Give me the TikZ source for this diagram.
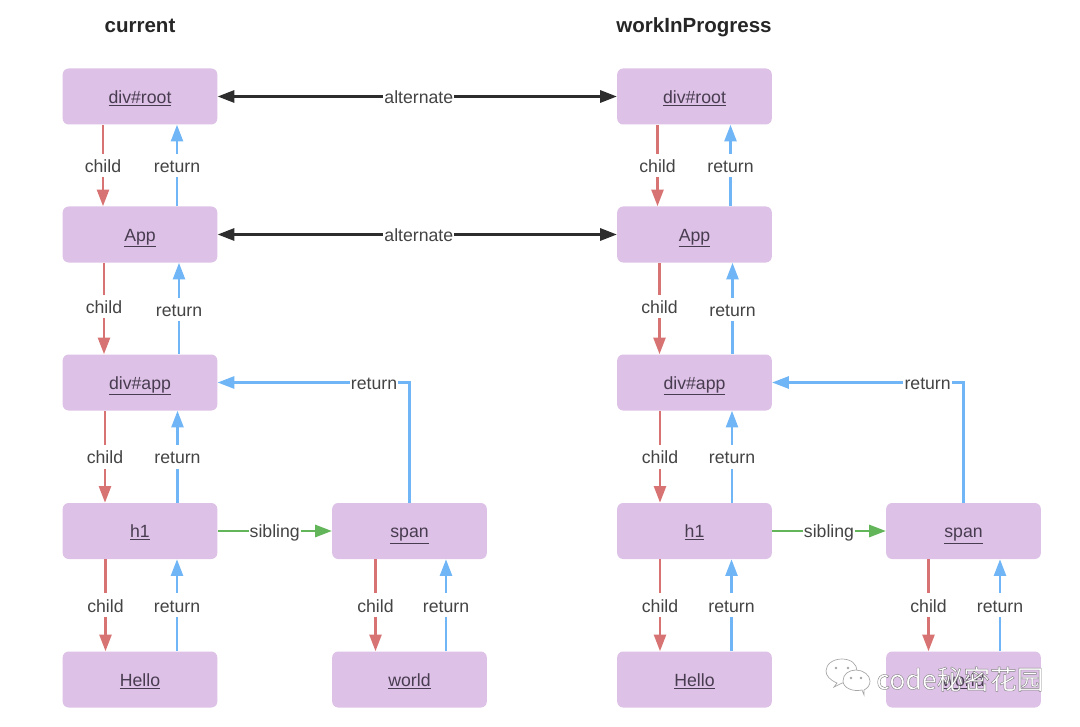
\documentclass[tikz,border=0pt]{standalone}
\usepackage{fontspec}
\setmainfont{Liberation Sans}
\newfontfamily\cjkmark{Noto Sans CJK SC}
\usetikzlibrary{arrows.meta}
\definecolor{boxfill}{RGB}{221,193,230}
\definecolor{boxtext}{RGB}{72,60,80}
\definecolor{labtext}{RGB}{68,68,68}
\definecolor{childred}{RGB}{216,115,115}
\definecolor{returnblue}{RGB}{112,181,245}
\definecolor{siblinggreen}{RGB}{99,181,90}
\definecolor{altblack}{RGB}{45,45,45}
\tikzset{
  fiber/.style={draw=none,fill=boxfill,rounded corners=4.5pt,minimum width=116pt,minimum height=42pt,inner sep=0pt,text=boxtext,text height=10pt,text depth=0pt,font=\fontsize{13.25}{15}\selectfont},
  lab/.style={fill=white,inner xsep=.8pt,inner ysep=1pt,text height=13pt,text depth=2.75pt,text=labtext,font=\fontsize{13.25}{15}\selectfont},
  tip/.style={-{Triangle[length=12.5pt,width=9pt]}},
  childlink/.style={tip,draw=childred,line width=1.9pt},
  returnlink/.style={tip,draw=returnblue,line width=1.9pt},
  siblinglink/.style={tip,draw=siblinggreen,line width=1.9pt},
  altlink/.style={{Triangle[length=12.5pt,width=9pt]}-{Triangle[length=12.5pt,width=9pt]},draw=altblack,line width=2.1pt},
  headline/.style={text=black!85,text height=13pt,text depth=3pt,font=\bfseries\fontsize{15.4}{18}\selectfont},
}
\newcommand\treelink[6][.5]{\draw[#2] ([xshift=#5*.75pt]#3) -- node[lab,pos=#1]{#6} ([xshift=#5*.75pt]#4);}
\begin{document}
\begin{tikzpicture}[x=.75pt,y=-.75pt]
\useasboundingbox (0,0) rectangle (1080,727);
\node[headline] (t1) at (140,26) {current};
\node[headline] (t2) at (694,26) {workInProgress};

\foreach \n/\cx/\cy/\txt in {
  rootA/140/96.5/div\#root, appA/140/234.5/App, divA/140/382.5/div\#app, hA/140/531/h1, helloA/140/679.5/Hello,
  spanA/409.5/531/span, worldA/409.5/679.5/world,
  rootB/694.5/96.5/div\#root, appB/694.5/234.5/App, divB/694.5/382.5/div\#app, hB/694.5/531/h1, helloB/694.5/679.5/Hello,
  spanB/963.5/531/span, worldB/963.5/679.5/world}
  \node[fiber] (\n) at (\cx,\cy) {\underline{\txt}};

% alternate
\draw[altlink] (rootA.east) -- node[lab,pos=.504]{alternate} (rootB.west);
\draw[altlink] (appA.east) -- node[lab,pos=.504]{alternate} (appB.west);

% left tree
\treelink{childlink}{rootA.south}{appA.north}{-37}{child}
\treelink{returnlink}{appA.north}{rootA.south}{37}{return}
\treelink[.478]{childlink}{appA.south}{divA.north}{-36}{child}
\treelink[.49]{returnlink}{divA.north}{appA.south}{39}{return}
\treelink{childlink}{divA.south}{hA.north}{-35}{child}
\treelink{returnlink}{hA.north}{divA.south}{37.5}{return}
\treelink{childlink}{hA.south}{helloA.north}{-34.5}{child}
\treelink{returnlink}{helloA.north}{hA.south}{37}{return}
\treelink{childlink}{spanA.south}{worldA.north}{-34}{child}
\treelink{returnlink}{worldA.north}{spanA.south}{36.5}{return}
\draw[siblinglink] (hA.east) -- node[lab]{sibling} (spanA.west);
\coordinate (cornerA) at (spanA.north |- divA.east);
\draw[returnlink] (spanA.north) -- (cornerA) -- node[lab,pos=.185]{return} (divA.east);

% right tree
\treelink{childlink}{rootB.south}{appB.north}{-37}{child}
\treelink{returnlink}{appB.north}{rootB.south}{36}{return}
\treelink[.478]{childlink}{appB.south}{divB.north}{-35}{child}
\treelink[.49]{returnlink}{divB.north}{appB.south}{38}{return}
\treelink{childlink}{divB.south}{hB.north}{-34.5}{child}
\treelink{returnlink}{hB.north}{divB.south}{37.5}{return}
\treelink{childlink}{hB.south}{helloB.north}{-34.5}{child}
\treelink{returnlink}{helloB.north}{hB.south}{37}{return}
\treelink{childlink}{spanB.south}{worldB.north}{-35}{child}
\treelink{returnlink}{worldB.north}{spanB.south}{36.5}{return}
\draw[siblinglink] (hB.east) -- node[lab]{sibling} (spanB.west);
\coordinate (cornerB) at (spanB.north |- divB.east);
\draw[returnlink] (spanB.north) -- (cornerB) -- node[lab,pos=.1875]{return} (divB.east);

% watermark icon
\begin{scope}[draw=black!35,fill=white,line width=.5pt]
  \filldraw (834,687) -- (837,683) .. controls (830,680) and (826,676) .. (826,671)
     .. controls (826,664) and (833,659) .. (842,659)
     .. controls (851,659) and (857,664) .. (857,671)
     .. controls (857,678) and (851,683) .. (842,683) -- (834,687) -- cycle;
  \fill[black!35] (836,668) circle (1.4) (848,668) circle (1.4);
  \filldraw (864,695) -- (862,690) .. controls (853,692) and (843,688) .. (843,681)
     .. controls (843,674) and (849,670) .. (856,670)
     .. controls (863,670) and (870,675) .. (870,681)
     .. controls (870,685) and (868,688) .. (864,690) -- (864,695) -- cycle;
  \fill[black!35] (851,678) circle (1.3) (861,678) circle (1.3);
\end{scope}
\node[anchor=west,inner sep=0pt,font=\cjkmark\fontsize{20}{22}\selectfont] (mark) at (876,679)
  {\special{pdf:code q 2 Tr 0.3 w 0.5 G 1 g}code秘密花园\special{pdf:code Q}};
\end{tikzpicture}
\end{document}
